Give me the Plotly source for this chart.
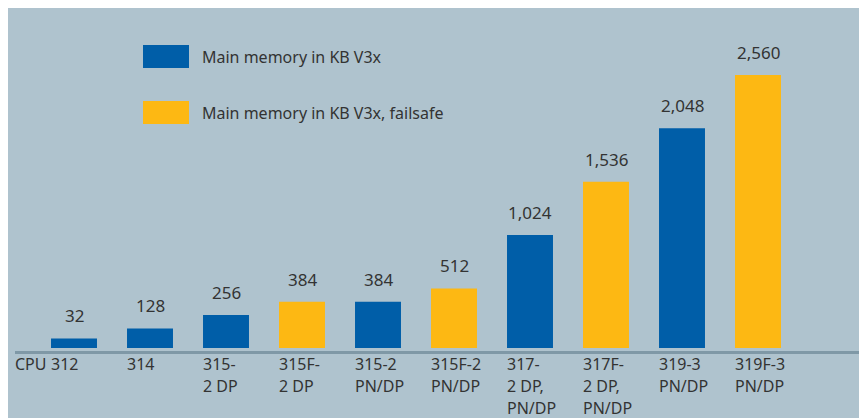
import plotly.graph_objects as go

# ---- data ----
categories = ["CPU 312", "314", "315-2 DP", "315F-2 DP", "315-2 PN/DP",
              "315F-2 PN/DP", "317-2 DP, PN/DP", "317F-2 DP, PN/DP",
              "319-3 PN/DP", "319F-3 PN/DP"]
tick_labels = ["312", "314", "315-<br>2 DP", "315F-<br>2 DP", "315-2<br>PN/DP",
               "315F-2<br>PN/DP", "317-<br>2 DP,<br>PN/DP", "317F-<br>2 DP,<br>PN/DP",
               "319-3<br>PN/DP", "319F-3<br>PN/DP"]
tick_prefix = "CPU"
series_names = ["Main memory in KB V3x", "Main memory in KB V3x, failsafe"]
memory_standard = [32, 128, 256, None, 384, None, 1024, None, 2048, None]
memory_failsafe = [None, None, None, 384, None, 512, None, 1536, None, 2560]

# ---- style ----
OFF = 8                      # default page body margin
W, H = 854, 410
BLUE = "#005ea8"
YELLOW = "#fdb813"
BG = "#afc3ce"
AXIS = "#7f98a6"
TXT = "#333333"
FONT = "Noto Sans"
BAR_BASE = -60
ML, MR, MT, MB = 28, 66, 0, 70
PW, PH = W - ML - MR, H - MT - MB
YMAX = BAR_BASE + PH * 2620 / 273


def px(x):  # screen x -> paper
    return (x - OFF - ML) / PW


def py(y):  # screen y -> paper
    return (H - MB - (y - OFF)) / PH


fig = go.Figure()
for name, vals, col in [(series_names[0], memory_standard, BLUE),
                        (series_names[1], memory_failsafe, YELLOW)]:
    fig.add_trace(go.Bar(x=list(range(len(categories))),
                         y=[None if v is None else v - BAR_BASE for v in vals],
                         base=BAR_BASE, name=name, marker_color=col,
                         customdata=categories, hovertemplate="%{customdata}: %{y}<extra></extra>",
                         marker_line_width=0, width=0.605, showlegend=False))

shapes = [
    dict(type="line", xref="paper", yref="paper", x0=px(15), x1=px(861), y0=py(352.5), y1=py(352.5),
         line=dict(color=AXIS, width=3)),
    dict(type="rect", xref="paper", yref="paper", x0=px(143), x1=px(189), y0=py(68), y1=py(45),
         fillcolor=BLUE, line_width=0),
    dict(type="rect", xref="paper", yref="paper", x0=px(143), x1=px(189), y0=py(124), y1=py(101),
         fillcolor=YELLOW, line_width=0),
]

annotations = []
for name, yc in [(series_names[0], 57), (series_names[1], 113)]:
    annotations.append(dict(x=px(200), y=py(yc), xref="paper", yref="paper", text=name,
                            showarrow=False, xanchor="left", yanchor="middle",
                            font=dict(family=FONT, size=16, color=TXT)))
for i, (a, b) in enumerate(zip(memory_standard, memory_failsafe)):
    v = a if a is not None else b
    annotations.append(dict(x=i, y=v, xref="x", yref="y", text=f"{v:,}", showarrow=False,
                            xanchor="center", yanchor="bottom", yshift=9,
                            font=dict(family=FONT, size=17, color=TXT)))
for i, lab in enumerate(tick_labels):
    for j, line in enumerate(lab.split("<br>")):
        annotations.append(dict(x=i, y=py(352), xref="x", yref="paper", text=line,
                                showarrow=False, xanchor="left", yanchor="top",
                                xshift=-24, yshift=-22 * j, borderpad=0,
                                font=dict(family=FONT, size=16, color=TXT)))
annotations.append(dict(x=0, y=py(352), xref="x", yref="paper", text=tick_prefix,
                        showarrow=False, xanchor="right", yanchor="top", xshift=-26,
                        borderpad=0, font=dict(family=FONT, size=16, color=TXT)))

fig.update_layout(
    width=W, height=H,
    margin=dict(l=ML, r=MR, t=MT, b=MB, pad=0),
    paper_bgcolor=BG, plot_bgcolor="rgba(0,0,0,0)",
    barmode="overlay", showlegend=False,
    xaxis=dict(range=[-0.5, 9.5], showticklabels=False, showgrid=False,
               zeroline=False, showline=False, ticks=""),
    yaxis=dict(range=[BAR_BASE, YMAX], showticklabels=False, showgrid=False,
               zeroline=False, showline=False, ticks=""),
    shapes=shapes, annotations=annotations,
    font=dict(family=FONT, color=TXT),
)

fig.write_html("out.html")
